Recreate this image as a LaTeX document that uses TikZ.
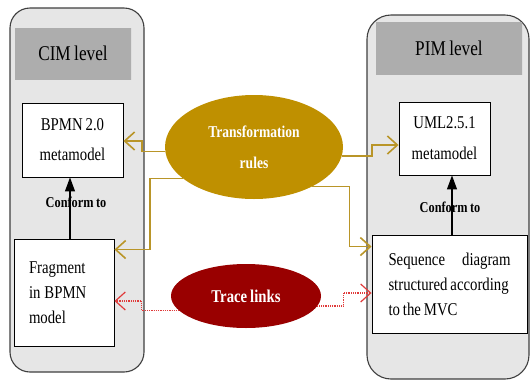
\documentclass[tikz,border=0pt]{standalone}
\usepackage{fontspec}
\setmainfont{Liberation Serif}[FakeStretch=0.82,WordSpace=0.8]
\usetikzlibrary{arrows.meta,shapes.geometric}
\definecolor{gold}{HTML}{BF9000}
\definecolor{goldline}{HTML}{B99528}
\definecolor{maroonfill}{HTML}{990000}
\definecolor{redline}{HTML}{E03A3A}
\definecolor{panelbg}{HTML}{E6E6E6}
\definecolor{panelborder}{HTML}{3F3F3F}
\definecolor{hdrin}{HTML}{6E6E6E}
\definecolor{hdrout}{HTML}{ADADAD}
\begin{document}
\begin{tikzpicture}[x=1pt,y=-1pt,
  panel/.style={draw=panelborder, fill=panelbg, line width=1.1pt, inner sep=0pt},
  header/.style={inner sep=0pt, left color=hdrout, middle color=hdrin, right color=hdrout, font=\fontsize{21}{25}\selectfont},
  box/.style={draw=black, fill=white, line width=0.9pt, inner sep=0pt, font=\fontsize{18}{25}\selectfont},
  ell/.style={ellipse, inner sep=0pt, text=white},
  goldarrow/.style={draw=goldline, line width=1.6pt, -{Straight Barb[length=10pt,width=18pt]}},
  redarrow/.style={draw=redline, line width=1.2pt, dash pattern=on 1pt off 0.8pt, -{Straight Barb[length=10pt,width=18pt]}},
  conformarrow/.style={draw=black, line width=1.2pt, -{Triangle[length=14pt,width=10pt]}},
  conformlabel/.style={font=\bfseries\fontsize{15}{18}\selectfont, inner sep=1pt}]
\useasboundingbox (0,0) rectangle (531,381);
\fill[white] (0,0) rectangle (531,381);

% containers
\node[panel, rounded corners=20pt, minimum width=134pt, minimum height=364pt] (cim) at (77,190) {};
\node[panel, rounded corners=24pt, minimum width=162pt, minimum height=364pt] (pim) at (448,197) {};

% headers
\node[header, minimum width=116pt, minimum height=51pt] (cimh) at (73,53.5) {CIM level};
\node[header, minimum width=146pt, minimum height=52pt] (pimh) at (449,48) {PIM level};

% boxes
\node[box, minimum width=101pt, minimum height=74pt, align=center] (bpmn) at (72.5,140)
  {BPMN 2.0\\[5pt]metamodel};
\node[box, minimum width=100pt, minimum height=107pt, text width=70pt, inner xsep=15pt, align=left] (frag) at (64,292.5)
  {Fragment\\in\hspace{4pt}BPMN\\model};
\node[box, minimum width=91pt, minimum height=73pt, align=center] (uml) at (444.5,138.5)
  {UML2.5.1\\[6pt]metamodel};
\node[box, minimum width=155pt, minimum height=98pt, align=left] (seq) at (449.5,284)
  {\hbox to 122pt{Sequence\hfill diagram}\\structured according\\to the MVC};

% ellipses
\node[ell, fill=gold, minimum width=178pt, minimum height=104pt, align=center,
  font=\bfseries\fontsize{16.5}{28}\selectfont] (tr) at (254,147)
  {Transformation\\[3pt]rules};
\node[ell, fill=maroonfill, minimum width=150pt, minimum height=64pt,
  font=\bfseries\fontsize{18}{28}\selectfont] (tl) at (246,296)
  {Trace links};

% conform arrows
\draw[conformarrow] ([xshift=6pt]frag.north) -- ([xshift=6pt]frag.north |- bpmn.south);
\node[conformlabel] (cl1) at (76,202) {Conform to};
\draw[conformarrow] ([xshift=2.5pt]seq.north) -- ([xshift=2.5pt]seq.north |- uml.south);
\node[conformlabel] (cl2) at (450,207) {Conform to};

% transformation connectors
\draw[goldarrow] (tr.183) -- ++(-23,0) |- ([yshift=-1pt]bpmn.east);
\draw[goldarrow] (tr.204.5) -- ++(-33,0) |- ([yshift=-11pt]frag.north east);
\draw[goldarrow] (tr.354.8) -- ++(30,0) |- ([yshift=-6.5pt]uml.west);
\draw[goldarrow] (tr.326.5) -- ++(37,0) |- ([yshift=-12pt]seq.north west);

% trace connectors
\draw[redarrow] (tl.192.8) -- ++(-37,0) |- ([yshift=-8.5pt]frag.east);
\draw[redarrow] (tl.352.9) -- ++(26,0) |- ([yshift=-9pt]seq.west);
\end{tikzpicture}
\end{document}
